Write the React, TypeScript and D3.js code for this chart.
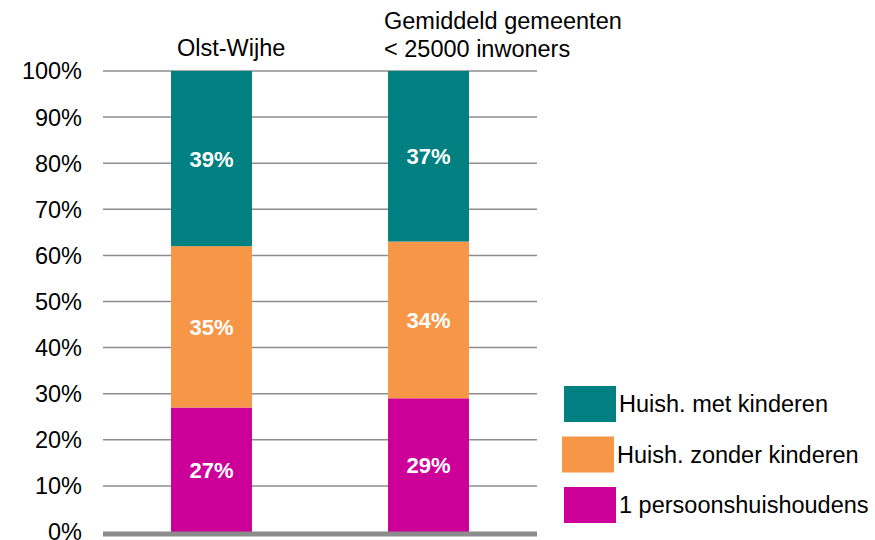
import { useEffect, useRef } from 'react';
import * as d3 from 'd3';

const categories = ['Olst-Wijhe', 'Gemiddeld gemeenten\n< 25000 inwoners'];
const series = ['1 persoonshuishoudens', 'Huish. zonder kinderen', 'Huish. met kinderen'];
const eenPersoon = [27, 29];
const zonderKinderen = [35, 34];
const metKinderen = [39, 37];
const yTicks = [0, 10, 20, 30, 40, 50, 60, 70, 80, 90, 100];
const legendOrder = ['Huish. met kinderen', 'Huish. zonder kinderen', '1 persoonshuishoudens'];

const colors: Record<string, string> = {
  '1 persoonshuishoudens': '#CC0099',
  'Huish. zonder kinderen': '#F79646',
  'Huish. met kinderen': '#008080',
};

const FONT = 'Arial, "Liberation Sans", sans-serif';
const FS = 23.5;

export default function App() {
  const svgRef = useRef<SVGSVGElement>(null);

  useEffect(() => {
    if (!svgRef.current) return;
    const width = 875;
    const height = 540;
    const svg = d3.select(svgRef.current);
    svg.selectAll('*').remove();

    const plot = { left: 103, right: 537, top: 71, bottom: 532 };

    const y = d3.scaleLinear().domain([0, 100]).range([plot.bottom, plot.top]).clamp(true);
    const x = d3.scaleBand()
      .domain(categories)
      .range([plot.left, plot.right])
      .paddingInner(0.627)
      .paddingOuter(0.3135);

    const rows = categories.map((c, i) => ({
      cat: c,
      '1 persoonshuishoudens': eenPersoon[i],
      'Huish. zonder kinderen': zonderKinderen[i],
      'Huish. met kinderen': metKinderen[i],
    }));
    const stacked = d3.stack<any>().keys(series)(rows);

    // gridlines
    svg.append('g')
      .selectAll('line')
      .data(yTicks.filter((t) => t > 0))
      .join('line')
      .attr('x1', plot.left)
      .attr('x2', plot.right)
      .attr('y1', (d) => y(d))
      .attr('y2', (d) => y(d))
      .attr('stroke', '#8c8c8c')
      .attr('stroke-width', 1.5);

    // y tick labels
    svg.append('g')
      .selectAll('text')
      .data(yTicks)
      .join('text')
      .attr('x', 82)
      .attr('y', (d) => y(d))
      .attr('dy', '0.36em')
      .attr('text-anchor', 'end')
      .attr('font-family', FONT)
      .attr('font-size', FS)
      .attr('fill', '#000')
      .text((d) => `${d}%`);

    // bars
    stacked.forEach((layer) => {
      svg.append('g')
        .selectAll('rect')
        .data(layer)
        .join('rect')
        .attr('x', (d: any) => x(d.data.cat)!)
        .attr('width', x.bandwidth())
        .attr('y', (d: any) => y(d[1]))
        .attr('height', (d: any) => y(d[0]) - y(d[1]))
        .attr('fill', colors[layer.key]);

      svg.append('g')
        .selectAll('text')
        .data(layer)
        .join('text')
        .attr('x', (d: any) => x(d.data.cat)! + x.bandwidth() / 2)
        .attr('y', (d: any) => (y(d[0]) + y(d[1])) / 2)
        .attr('dy', '0.36em')
        .attr('text-anchor', 'middle')
        .attr('font-family', FONT)
        .attr('font-size', 22)
        .attr('font-weight', 700)
        .attr('fill', '#fff')
        .text((d: any) => `${d.data[layer.key]}%`);
    });

    // baseline
    svg.append('line')
      .attr('x1', plot.left)
      .attr('x2', plot.right)
      .attr('y1', y(0) + 2)
      .attr('y2', y(0) + 2)
      .attr('stroke', '#8c8c8c')
      .attr('stroke-width', 5);

    // category labels above bars (placed like the original text boxes)
    svg.append('text')
      .attr('x', 177)
      .attr('y', 56)
      .attr('font-family', FONT)
      .attr('font-size', FS)
      .text(categories[0]);

    const lines = categories[1].split('\n');
    svg.append('text')
      .attr('x', 384)
      .attr('y', 29)
      .attr('font-family', FONT)
      .attr('font-size', FS)
      .selectAll('tspan')
      .data(lines)
      .join('tspan')
      .attr('x', 384)
      .attr('dy', (_d, i) => (i === 0 ? 0 : 28))
      .text((d) => d);

    // legend
    const legend = svg.append('g');
    legendOrder.forEach((key, i) => {
      const ly = 386 + i * 50.5;
      legend.append('rect')
        .attr('x', i === 1 ? 562 : 564)
        .attr('y', ly)
        .attr('width', 52)
        .attr('height', 36)
        .attr('fill', colors[key]);
      legend.append('text')
        .attr('x', i === 1 ? 617 : 619)
        .attr('y', ly + 18)
        .attr('dy', '0.36em')
        .attr('font-family', FONT)
        .attr('font-size', FS)
        .text(key);
    });

    svg.attr('width', width).attr('height', height);
  }, []);

  return (
    <div style={{ position: 'absolute', left: 0, top: 0 }}>
      <svg ref={svgRef} width={875} height={540} style={{ display: 'block', background: '#fff' }} />
    </div>
  );
}
